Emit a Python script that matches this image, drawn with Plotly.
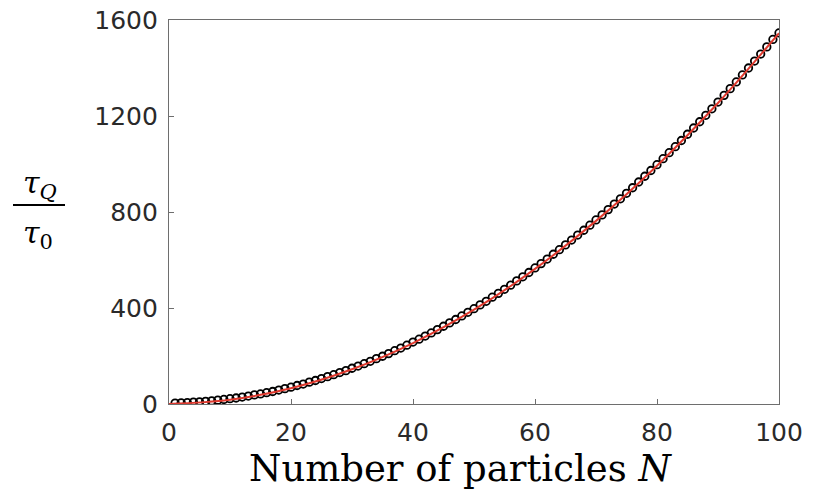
import plotly.graph_objects as go

# data
N = list(range(1, 101))
tau_ratio = [
    4, 5, 6, 8, 9, 11, 13, 16, 19, 22,
    25, 29, 33, 38, 42, 47, 52, 58, 64, 70,
    77, 83, 91, 98, 106, 114, 122, 131, 139, 149,
    158, 168, 178, 189, 199, 210, 222, 233, 245, 258,
    270, 283, 296, 310, 324, 338, 352, 367, 382, 397,
    413, 428, 445, 461, 478, 495, 513, 530, 548, 567,
    585, 604, 624, 643, 663, 683, 704, 724, 745, 767,
    788, 810, 833, 855, 878, 901, 925, 949, 973, 997,
    1022, 1047, 1072, 1098, 1124, 1150, 1176, 1203, 1230, 1258,
    1286, 1314, 1342, 1371, 1400, 1429, 1458, 1488, 1519, 1546,
]
fit_N = [0, 10, 20, 30, 40, 50, 60, 70, 80, 90, 100]
fit_vals = [0, 18, 66, 145, 254, 393, 563, 763, 993, 1254, 1545]

x_ticks = [0, 20, 40, 60, 80, 100]
y_ticks = [0, 400, 800, 1200, 1600]

fig = go.Figure()
fig.add_trace(go.Scatter(
    x=N, y=tau_ratio, mode="markers",
    marker=dict(symbol="circle-open", size=7.5, color="black", line=dict(width=1.8)),
))
fig.add_trace(go.Scatter(
    x=fit_N, y=fit_vals, mode="lines", line=dict(color="#e03a2f", width=2, shape="spline"),
))

axis_style = dict(
    showgrid=False, zeroline=False, showline=True, mirror=True, automargin=False,
    linecolor="#6e6e6e", linewidth=1.2, ticks="inside", ticklen=5,
    tickcolor="#6e6e6e", ticklabeloverflow="allow",
    tickfont=dict(family="DejaVu Sans", size=25, color="#2a2a2a"),
)
fig.update_xaxes(range=[0, 100], tickvals=x_ticks, ticklabelstandoff=6, **axis_style)
fig.update_yaxes(range=[0, 1600], tickvals=y_ticks, ticklabelstandoff=5, **axis_style)

serif = "DejaVu Serif, Liberation Serif, serif"
# page coords -> paper fractions (plot area is page x 169..779, y 20..404)
def px(x):
    return (x - 169) / 610


def py(y):
    return (404 - y) / 384


fig.add_annotation(text="Number of particles <i>N</i>", xref="paper", yref="paper",
                   x=px(460), y=py(468), xanchor="center", yanchor="middle", showarrow=False,
                   font=dict(family=serif, size=37, color="black"))
fig.add_annotation(text="<i>τ</i><sub><i>Q</i></sub>", xref="paper", yref="paper",
                   x=px(40), y=py(184), xanchor="center", yanchor="middle",
                   showarrow=False, font=dict(family=serif, size=30, color="black"))
fig.add_annotation(text="<i>τ</i><sub>0</sub>", xref="paper", yref="paper",
                   x=px(38), y=py(234), xanchor="center", yanchor="middle",
                   showarrow=False, font=dict(family=serif, size=30, color="black"))
fig.add_shape(type="line", xref="paper", yref="paper",
              x0=px(13), x1=px(65), y0=py(205), y1=py(205),
              line=dict(color="black", width=2))

fig.update_layout(
    width=816, height=500, showlegend=False,
    margin=dict(l=169, r=37, t=20, b=96),
    plot_bgcolor="white", paper_bgcolor="white",
)

# drop the page's default body margin so the figure sits at the window corner
fig.write_html("out.html", config={"displayModeBar": False},
               post_script="document.body.style.margin='0';")
